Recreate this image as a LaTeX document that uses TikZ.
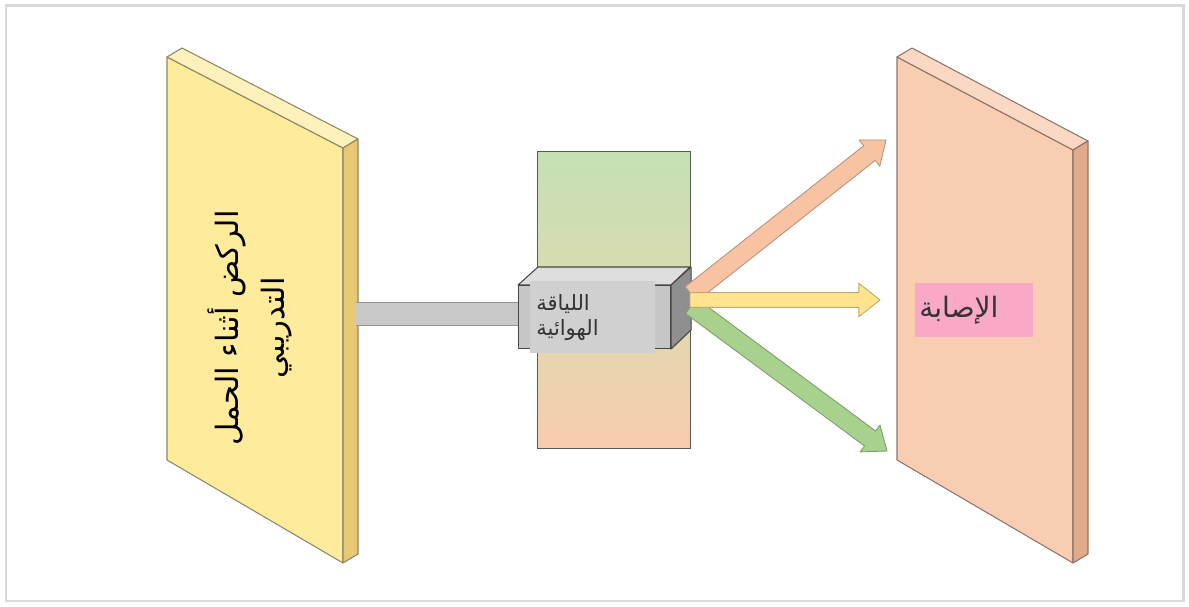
\documentclass[tikz,border=0pt]{standalone}
\usepackage{fontspec}
\usepackage{xcolor}
\usepackage{tikz}
\usetikzlibrary{positioning,calc,shapes}
\TeXXeTstate=1
\newfontfamily\arabicfont[Script=Arabic]{DejaVu Sans}
\definecolor{framegray}{HTML}{D9D9D9}
\definecolor{yelfront}{HTML}{FFEB9C}
\definecolor{yeltop}{HTML}{FFF1BC}
\definecolor{yelside}{HTML}{E9C873}
\definecolor{yelline}{HTML}{8E8666}
\definecolor{salfront}{HTML}{F9CDB1}
\definecolor{saltop}{HTML}{FAD8C4}
\definecolor{salside}{HTML}{E2A98A}
\definecolor{salline}{HTML}{8E7468}
\definecolor{boxfront}{HTML}{C6C6C6}
\definecolor{boxtop}{HTML}{DEDEDE}
\definecolor{boxside}{HTML}{8F8F8F}
\definecolor{boxlabel}{HTML}{D0D0D0}
\definecolor{bargray}{HTML}{C8C8C8}
\definecolor{hurtpink}{HTML}{F9A8C7}
\definecolor{arrorange}{HTML}{F8C3A3}
\definecolor{arryellow}{HTML}{FFE38F}
\definecolor{arrgreen}{HTML}{A9D18E}
\definecolor{airtop}{HTML}{C5E0B4}
\definecolor{airmid}{HTML}{DCDAB0}
\definecolor{airbottom}{HTML}{F9CCAE}
\tikzset{
frame/.style={draw=framegray, line width=1.7pt},
face/.style={draw=#1, line width=0.6pt, line join=round},
bar/.style={draw=gray!85, double=bargray, double distance=12.5pt, line width=0.6pt},
tallbox/.style={draw=gray!70!black, line width=0.6pt, top color=airtop, bottom color=airbottom, middle color=airmid, inner sep=0pt},
cube/.style={face=gray!55!black, fill=#1},
fitlabel/.style={fill=boxlabel, inner sep=0.12cm, text width=2.26cm, minimum height=1.44cm, align=left, text=black!80, font=\arabicfont\fontsize{12}{14}\selectfont},
hurt/.style={fill=hurtpink, inner sep=0.08cm, text width=2.2cm, minimum height=1.08cm, align=left, text=black!80, font=\arabicfont\fontsize{16}{20}\selectfont},
runlabel/.style={rotate=90, align=center, text=black, font=\arabicfont\fontsize{17.5}{26}\selectfont}
}
\newcommand{\slab}[2]{%
 \draw[face=#2line, fill=#2front] (#11) -- (#12) -- (#13) -- (#14) -- cycle;
 \draw[face=#2line, fill=#2top] (#11) -- ++(15,-9) -- ($(#12)+(15,-9)$) -- (#12) -- cycle;
 \draw[face=#2line, fill=#2side] (#12) -- ++(15,-9) -- ($(#13)+(15,-9)$) -- (#13) -- cycle;
}
\newcommand{\blockarr}[4]{%
 \coordinate (hb) at ($(#2)!12pt!(#1)$);
 \draw[fill=#3, draw=#3!75!black, line width=0.5pt, line join=round]
  ($(#1)!#4!90:(#2)$) -- ($(hb)!#4!90:(#2)$) -- ($(hb)!9.5pt!90:(#2)$) -- (#2)
  -- ($(hb)!9.5pt!-90:(#2)$) -- ($(hb)!#4!-90:(#2)$) -- ($(#1)!#4!-90:(#2)$) -- cycle;
}
\begin{document}
\begin{tikzpicture}[x=0.02cm,y=-0.02cm]
	\useasboundingbox (0,0) rectangle (1189,607);
	\draw[frame] (6,6) rectangle (1183,601);

	\coordinate (l1) at (167,57);
	\coordinate (l2) at (343,148);
	\coordinate (l3) at (343,563);
	\coordinate (l4) at (167,460);
	\coordinate (r1) at (897,57);
	\coordinate (r2) at (1073,150);
	\coordinate (r3) at (1073,563);
	\coordinate (r4) at (897,460);
	\coordinate (lbar) at (356,314);

	\node[tallbox, minimum width=3.06cm, minimum height=5.94cm, anchor=north west] (air) at (537,151) {};

	\slab{l}{yel}
	\node[runlabel] (run) at (250,328) {\beginR الركض أثناء الحمل\endR\\\beginR التدريبي\endR};

	\draw[bar] (lbar) -- (530,314);
	\node[cube=boxfront, minimum width=3.04cm, minimum height=1.26cm, anchor=north west] (front) at (518,285) {};
	\draw[cube=boxtop] (front.north west) -- ++(20,-18) -- ++(152,0) -- (front.north east) -- cycle;
	\draw[cube=boxside] (front.north east) -- ++(20,-18) -- ++(0,63) -- (front.south east) -- cycle;
	\node[fitlabel, anchor=north west] (fit) at (530,281) {\beginR اللياقة\endR\\\beginR الهوائية\endR};

	\coordinate (so) at (691,294);
	\coordinate (sy) at (690,300);
	\coordinate (sg) at (691,306);
	\coordinate (ho) at (886,140);
	\coordinate (hy) at (880,300);
	\coordinate (hg) at (887,451);
	\blockarr{so}{ho}{arrorange}{5.3pt}
	\blockarr{sg}{hg}{arrgreen}{5.3pt}
	\blockarr{sy}{hy}{arryellow}{4.2pt}

	\slab{r}{sal}
	\node[hurt, anchor=north west] (injury) at (915,283) {\beginR الإصابة\endR};
\end{tikzpicture}
\end{document}
